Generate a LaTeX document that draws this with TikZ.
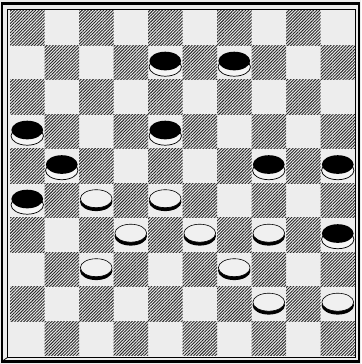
\documentclass[tikz,border=0pt]{standalone}
\usetikzlibrary{patterns.meta}

\begin{document}
\begin{tikzpicture}[
  darksq/.style={pattern={Lines[angle=45,distance=1.8pt,line width=0.75pt]},pattern color=black!85},
  rim/.style={draw=black,line width=0.6pt,fill=black!4},
  face/.style={draw=black,line width=0.5pt,fill=black!6}]
  \useasboundingbox (-0.29,-0.232) rectangle (10.174,10.319);
  \fill[black!7] (-0.29,-0.232) rectangle (10.174,10.319);
  % frame
  \draw[line width=2pt] (-0.232,-0.159) rectangle (10.116,10.217);
  \draw[line width=0.7pt] (-0.072,-0.043) rectangle (10.014,10.043);
  \draw[line width=0.6pt] (-0.2,-0.13) -- (-0.072,-0.043);
  % hatched squares
  \foreach \i in {0,...,9}
    \foreach \j in {0,...,9}{
      \pgfmathparse{int(mod(\i+\j,2))}
      \ifnum\pgfmathresult=1 \fill[darksq] (\i,\j) rectangle ++(1,1); \fi
    }
  % black men
  \foreach \x/\y in {4.5/8.5,6.5/8.5,0.5/6.5,4.5/6.5,1.5/5.5,7.5/5.5,9.5/5.5,0.5/4.5,9.5/3.5}{
    \draw[rim] (\x,\y-0.12) ellipse (0.47 and 0.27);
    \fill (\x,\y+0.05) ellipse (0.46 and 0.27);
  }
  % white men
  \foreach \x/\y in {2.5/4.5,4.5/4.5,3.5/3.5,5.5/3.5,7.5/3.5,2.5/2.5,6.5/2.5,7.5/1.5,9.5/1.5}{
    \fill (\x,\y-0.03) ellipse (0.47 and 0.27);
    \draw[face] (\x,\y+0.06) ellipse (0.46 and 0.26);
  }
\end{tikzpicture}
\end{document}
